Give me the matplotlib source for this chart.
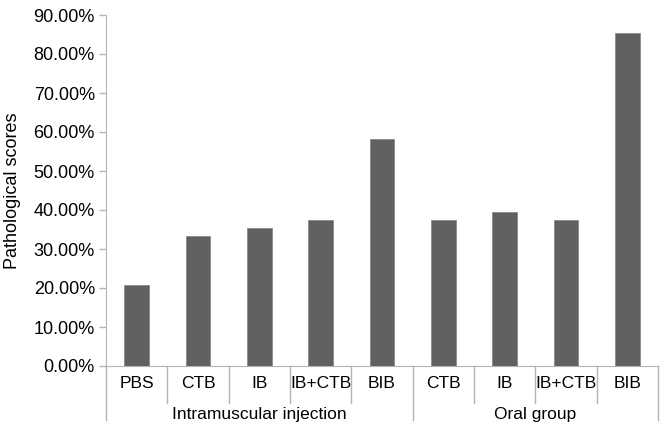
import numpy as np
import matplotlib
matplotlib.use('Agg')
import matplotlib.pyplot as plt
from matplotlib.ticker import FuncFormatter

plt.rcParams['font.family'] = ['Liberation Sans', 'DejaVu Sans']

# data
categories = ['PBS', 'CTB', 'IB', 'IB+CTB', 'BIB', 'CTB', 'IB', 'IB+CTB', 'BIB']
scores = [0.2083, 0.3333, 0.3542, 0.375, 0.5833, 0.375, 0.3958, 0.375, 0.8542]
groups = ['Intramuscular injection', 'Oral group']
group_sizes = [5, 4]

axis_col = '#b4b4b4'
bar_col = '#606060'

fig = plt.figure(figsize=(6.66, 4.32), dpi=100)
ax = fig.add_axes([106/666, 1 - 366/432, 552/666, 351/432])

x = np.arange(len(categories)) + 0.5
ax.bar(x, scores, width=0.4, color=bar_col, edgecolor='#8a8a8a', linewidth=0.6)

ax.set_xlim(0, len(categories))
ax.set_ylim(0, 0.9)
ax.set_yticks(np.arange(0, 0.91, 0.1))
ax.yaxis.set_major_formatter(FuncFormatter(lambda v, p: '%.2f%%' % (v * 100)))
ax.tick_params(axis='y', length=5, width=1, color=axis_col, labelsize=13, pad=3)
ax.set_xticks([])

for s in ['top', 'right']:
    ax.spines[s].set_visible(False)
ax.spines['left'].set_color(axis_col)
ax.spines['bottom'].set_color(axis_col)
ax.spines['left'].set_bounds(0, 0.9)

ax.set_ylabel('Pathological scores', fontsize=13, labelpad=9)

# category labels and short separators
trans = ax.get_xaxis_transform()
short_len = -37 / 351
long_len = -54 / 351
for i, c in enumerate(categories):
    ax.text(x[i], -17 / 351, c, transform=trans, ha='center', va='center', fontsize=12.5)

edges = np.cumsum([0] + group_sizes)
for k in range(1, len(categories)):
    if k in edges:
        continue
    ax.plot([k, k], [0, short_len], transform=trans, color=axis_col, lw=1, clip_on=False)
for e in edges:
    ax.plot([e, e], [0, long_len], transform=trans, color=axis_col, lw=1, clip_on=False)

for g, a, b in zip(groups, edges[:-1], edges[1:]):
    ax.text((a + b) / 2, -49 / 351, g, transform=trans, ha='center', va='center', fontsize=12.5)

fig.savefig('out.png', dpi=100)
